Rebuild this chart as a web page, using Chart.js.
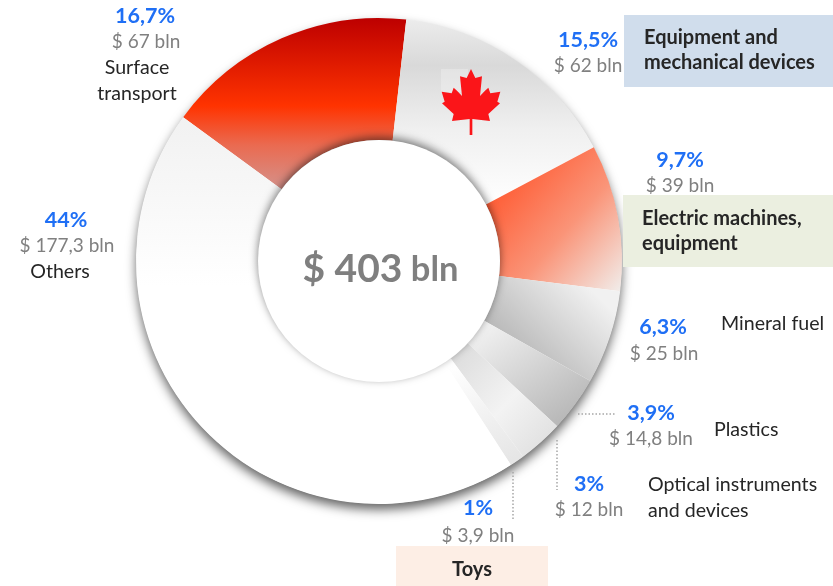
<!DOCTYPE html>
<html><head><meta charset="utf-8">
<style>html,body{margin:0;padding:0;background:#fff}canvas{display:block}</style>
<script src="https://cdn.jsdelivr.net/npm/chart.js@4"></script>
</head><body>
<canvas id="c" width="833" height="586"></canvas>
<script>
const categories = ["Surface transport","Equipment and mechanical devices","Electric machines, equipment","Mineral fuel","Plastics","Optical instruments and devices","Toys","Others"];
const amounts = [67,62,39,25,14.8,12,3.9,177.3];
const percentLabels = ["16,7%","15,5%","9,7%","6,3%","3,9%","3%","1%","44%"];
const amountLabels = ["$ 67 bln","$ 62 bln","$ 39 bln","$ 25 bln","$ 14,8 bln","$ 12 bln","$ 3,9 bln","$ 177,3 bln"];
const totalLabel = ["$ 403"," bln"];

const FONT = 'Lato, Carlito, "Open Sans", sans-serif';
const CX=379, CY=261, RO=243, RI=121;

function lin(ctx,x0,y0,x1,y1,stops){
  const g=ctx.createLinearGradient(x0,y0,x1,y1);
  stops.forEach(s=>g.addColorStop(s[0],s[1]));
  return g;
}
const fills = [
  c=>lin(c,0,18,0,187,[[0,'#bd0000'],[0.52,'#ff3300'],[0.75,'#ea6a50'],[1,'#d69088']]),
  c=>lin(c,0,19,0,205,[[0,'#ececec'],[0.25,'#d9d9d9'],[0.6,'#f0f0f0'],[1,'#ffffff']]),
  c=>lin(c,495,185,620,295,[[0,'#ff5a32'],[0.5,'#fa9478'],[1,'#f1efed']]),
  c=>lin(c,490,355,570,270,[[0,'#adadad'],[1,'#f1f1f1']]),
  c=>lin(c,490,320,560,420,[[0,'#f2f2f2'],[1,'#b9b9b9']]),
  c=>lin(c,455,350,555,440,[[0,'#dcdcdc'],[0.55,'#f3f3f3'],[1,'#e0e0e0']]),
  c=>lin(c,460,360,510,460,[[0,'#ffffff'],[1,'#e6e6e6']]),
  c=>lin(c,0,114,0,285,[[0,'#f1f1f1'],[1,'#ffffff']])
];

const leafRight=[[0,15],[13,42],[33,37],[27,96],[42,80],[52,71],[58,88],[88,83],[79,113],[87,118],[52,150],[57,171],[4,165],[4,213]];

const decor={
 id:'decor',
 beforeDatasetsDraw(ch){
  const c=ch.ctx;
  c.save();
  c.shadowColor='rgba(0,0,0,0.62)';c.shadowBlur=11;c.shadowOffsetX=0;c.shadowOffsetY=6;
  c.fillStyle='#fff';c.beginPath();c.arc(CX,CY,RO-0.5,0,Math.PI*2);c.fill();
  c.restore();
 },
 afterDatasetsDraw(ch){
  const c=ch.ctx;
  c.save();
  c.shadowColor='rgba(0,0,0,0.5)';c.shadowBlur=8;c.shadowOffsetX=0;c.shadowOffsetY=-3;
  c.fillStyle='#fff';c.beginPath();c.arc(CX,CY,RI,0,Math.PI*2);c.fill();
  c.restore();
  c.save();
  c.fillStyle='rgba(255,255,255,0.25)';c.fillRect(441,69,27,23);
  c.fillStyle='#fb1519';c.beginPath();
  const X=p=>471+p/3, Y=p=>64+p/3;
  leafRight.forEach((p,i)=>{i?c.lineTo(X(p[0]),Y(p[1])):c.moveTo(X(p[0]),Y(p[1]));});
  [...leafRight].reverse().forEach(p=>c.lineTo(X(-p[0]),Y(p[1])));
  c.closePath();c.fill();
  c.restore();
  c.fillStyle='#d0ddec';c.fillRect(624,15,209,72);
  c.fillStyle='#ebefe0';c.fillRect(623,195,210,72);
  c.fillStyle='#fdeee5';c.fillRect(396,546,152,40);
  c.save();c.strokeStyle='#a6a6a6';c.lineWidth=1.5;c.setLineDash([1.5,2]);
  [[578,414,615,414],[557,440,557,490],[513,472,513,521]].forEach(l=>{c.beginPath();c.moveTo(l[0],l[1]);c.lineTo(l[2],l[3]);c.stroke();});
  c.restore();
  c.textBaseline='middle';
  const t=(s,x,y,font,col,al)=>{c.font=font;c.fillStyle=col;c.textAlign=al||'center';c.fillText(s,x,y+1);};
  const P='bold 21.5px '+FONT, A='19px '+FONT, N='19.6px '+FONT, B='bold 20px '+FONT;
  const blue='#1f6ff5', grey='#808080', dark='#262626';
  const pos=[[145,15,146,41],[588,39,588,65],[680,159,680,185],[663,326,664,353],[651,412,651,438],[589,483,589,509],[478,507,478,535],[66,219,67,245]];
  pos.forEach((p,i)=>{t(percentLabels[i],p[0],p[1],P,blue);t(amountLabels[i],p[2],p[3],A,grey);});
  t('Surface',137,67,N,dark);t('transport',137,93,N,dark);
  t('Others',60,271,N,dark);
  t('Mineral fuel',721,323,N,dark,'left');
  t('Plastics',714,429,N,dark,'left');
  t('Optical instruments',648,484,N,dark,'left');
  t('and devices',648,510,N,dark,'left');
  t('Equipment and',644,37,B,dark,'left');
  t('mechanical devices',644,62,B,dark,'left');
  t('Electric machines,',642,218,B,dark,'left');
  t('equipment',642,243,B,dark,'left');
  t('Toys',472,569,B,dark);
  c.font='bold 39px '+FONT;const w1=c.measureText(totalLabel[0]).width;
  c.font='bold 34.5px '+FONT;const w2=c.measureText(totalLabel[1]).width;
  const x0=380.5-(w1+w2)/2;
  t(totalLabel[0],x0,268,'bold 39px '+FONT,'#7f7f7f','left');
  t(totalLabel[1],x0+w1,269,'bold 34.5px '+FONT,'#7f7f7f','left');
 }
};

new Chart(document.getElementById('c'),{
 type:'doughnut',
 data:{labels:categories,datasets:[{data:amounts,borderWidth:0,
   backgroundColor:(x)=>fills[x.dataIndex](x.chart.ctx)}]},
 options:{
  responsive:false,animation:false,
  rotation:-53.7,cutout:RI,radius:RO,
  layout:{padding:{left:CX-RO,right:833-CX-RO,top:CY-RO,bottom:586-CY-RO}},
  plugins:{legend:{display:false},tooltip:{enabled:false}}
 },
 plugins:[decor]
});
</script>
</body></html>
